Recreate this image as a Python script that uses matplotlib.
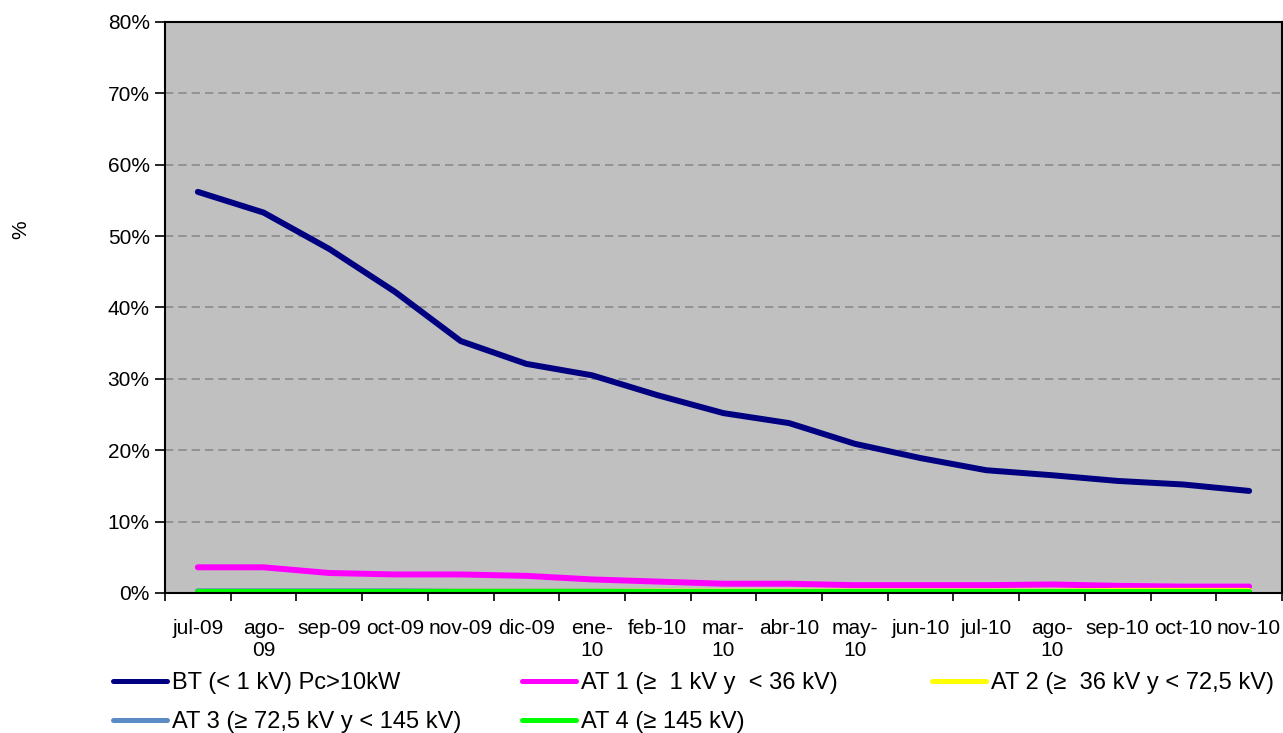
import numpy as np
import matplotlib.pyplot as plt
from matplotlib.lines import Line2D

plt.rcParams['font.family'] = ['Liberation Sans', 'DejaVu Sans']

# Categories (month labels, wrapped like the original)
months = ['jul-09', 'ago-\n09', 'sep-09', 'oct-09', 'nov-09', 'dic-09', 'ene-\n10',
          'feb-10', 'mar-\n10', 'abr-10', 'may-\n10', 'jun-10', 'jul-10', 'ago-\n10',
          'sep-10', 'oct-10', 'nov-10']

# Series values (%)
bt = [56.2, 53.3, 48.2, 42.2, 35.3, 32.1, 30.5, 27.7, 25.2, 23.8, 20.9, 18.9,
      17.2, 16.5, 15.7, 15.2, 14.3]
at1 = [3.6, 3.6, 2.8, 2.6, 2.6, 2.4, 1.9, 1.6, 1.3, 1.3, 1.1, 1.1, 1.1, 1.2,
       1.0, 0.9, 0.9]
at2 = [0.2, 0.2, 0.2, 0.2, 0.2, 0.2, 0.2, 0.2, 0.2, 0.2, 0.2, 0.2, 0.2, 0.2,
       0.3, 0.3, 0.3]
at3 = [0.25, 0.25, 0.25, 0.25, 0.2, 0.2, 0.2, 0.15, 0.15, 0.15, 0.15, 0.15,
       0.15, 0.15, 0.15, 0.15, 0.15]
at4 = [0.1] * 17

series = [
    ('BT (< 1 kV) Pc>10kW', bt, '#000080'),
    ('AT 1 (≥  1 kV y  < 36 kV)', at1, '#FF00FF'),
    ('AT 2 (≥  36 kV y < 72,5 kV)', at2, '#FFFF00'),
    ('AT 3 (≥ 72,5 kV y < 145 kV)', at3, '#5B8BC5'),
    ('AT 4 (≥ 145 kV)', at4, '#00FF00'),
]

fontsize_ticks = 15
fontsize_legend = 17

fig = plt.figure(figsize=(12.83, 7.33), dpi=100)
ax = fig.add_axes([0.1286, 0.191, 0.8706, 0.779])
ax.set_facecolor('#C0C0C0')

x = np.arange(len(months))
for label, vals, color in series:
    ax.plot(x, vals, color=color, linewidth=4.3, solid_capstyle='round',
            solid_joinstyle='round', label=label)

ax.set_xlim(-0.5, len(months) - 0.5)
ax.set_ylim(0, 80)

# y axis
ax.set_yticks(np.arange(0, 81, 10))
ax.set_yticklabels(['%d%%' % v for v in range(0, 81, 10)], fontsize=fontsize_ticks)
ax.grid(True, axis='y', linestyle=(0, (5, 3)), color='#8A8A8A', linewidth=1.2)
ax.set_axisbelow(True)

# x axis: tick marks between categories, labels at centers
ax.set_xticks(np.arange(-0.5, len(months)), minor=False)
ax.set_xticklabels([])
ax.set_xticks(x, minor=True)
ax.set_xticklabels(months, minor=True, fontsize=fontsize_ticks, linespacing=1.2,
                   va='top')
ax.tick_params(axis='x', which='major', length=6, width=1.2, color='black')
ax.tick_params(axis='x', which='minor', length=0, pad=19)
ax.tick_params(axis='y', length=7, width=1.2, pad=4)

for s in ax.spines.values():
    s.set_color('black')
    s.set_linewidth(1.5)

fig.text(21 / 1283, 1 - 230 / 733, '%', rotation=90, fontsize=fontsize_ticks,
         ha='center', va='center')

# Legend entries placed like the original layout
legend_pos = [(113, 683), (522, 683), (932, 683), (113, 722), (522, 722)]
for (label, vals, color), (px, py) in zip(series, legend_pos):
    h = Line2D([], [], color=color, linewidth=3.6, solid_capstyle='round')
    fig.legend([h], [label], loc='center left',
               bbox_to_anchor=(px / 1283, 1 - py / 733),
               frameon=False, fontsize=fontsize_legend,
               handlelength=2.3, handletextpad=0.2, borderpad=0,
               borderaxespad=0)

fig.savefig('out.png', dpi=100)
